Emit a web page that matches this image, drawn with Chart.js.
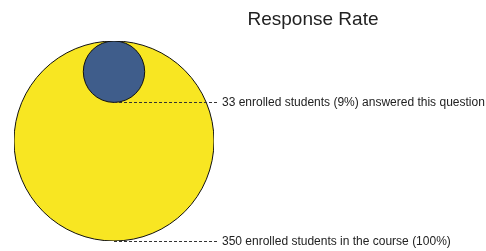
<!DOCTYPE html>
<html>
<head>
<meta charset="utf-8">
<script src="https://cdn.jsdelivr.net/npm/chart.js@4/dist/chart.umd.min.js"></script>
<style>
  html, body { margin: 0; padding: 0; background: #ffffff; }
  #wrap { width: 486px; height: 251px; }
</style>
</head>
<body>
<div id="wrap"><canvas id="chart" width="486" height="251"></canvas></div>
<script>
const title = 'Response Rate';
const categories = ['Enrolled in the course', 'Answered this question'];
const counts = [350, 33];
const labels = [
  '350 enrolled students in the course (100%)',
  '33 enrolled students (9%) answered this question'
];
const colors = ['#F8E622', '#3F5D8B'];

// circle area proportional to the count, both circles touching at the top
const radii = counts.map(v => Math.sqrt(v));
const R = radii[0];
const points = radii.map(r => ({ x: 0, y: 2 * R - r }));

// pixel radius taken from the y scale so the circles follow the axis units
const pixelRadius = (chart, r) => {
  const s = chart.scales.y;
  return Math.abs(s.getPixelForValue(0) - s.getPixelForValue(r));
};

const calloutPlugin = {
  id: 'callouts',
  afterDatasetsDraw(chart) {
    const { ctx } = chart;
    const xs = chart.scales.x, ys = chart.scales.y;
    ctx.save();
    // title
    ctx.fillStyle = '#222222';
    ctx.font = '19px "Liberation Sans", Arial, sans-serif';
    ctx.textAlign = 'center';
    ctx.textBaseline = 'middle';
    ctx.fillText(title, 313, 20);

    ctx.font = '12px "Liberation Sans", Arial, sans-serif';
    ctx.textAlign = 'left';
    points.forEach((p, i) => {
      const x0 = xs.getPixelForValue(p.x);
      const y0 = Math.round(ys.getPixelForValue(p.y - radii[i])) + 0.5;
      ctx.strokeStyle = '#333333';
      ctx.lineWidth = 1;
      ctx.setLineDash([3, 2]);
      ctx.beginPath();
      ctx.moveTo(x0, y0);
      ctx.lineTo(218, y0);
      ctx.stroke();
      ctx.fillStyle = '#222222';
      ctx.fillText(labels[i], 222, y0);
    });
    ctx.restore();
  }
};

new Chart(document.getElementById('chart'), {
  type: 'scatter',
  data: {
    labels: categories,
    datasets: [{
      data: points,
      backgroundColor: colors,
      borderColor: '#111111',
      borderWidth: 1,
      pointRadius: (c) => pixelRadius(c.chart, radii[c.dataIndex]),
      pointHoverRadius: (c) => pixelRadius(c.chart, radii[c.dataIndex])
    }]
  },
  options: {
    responsive: false,
    animation: false,
    events: [],
    layout: { padding: { left: 14, right: 272, top: 41, bottom: 10 } },
    scales: {
      x: { type: 'linear', min: -R, max: R, display: false },
      y: { type: 'linear', min: 0, max: 2 * R, display: false }
    },
    plugins: {
      legend: { display: false },
      title: { display: false },
      tooltip: { enabled: false }
    }
  },
  plugins: [calloutPlugin]
});
</script>
</body>
</html>
